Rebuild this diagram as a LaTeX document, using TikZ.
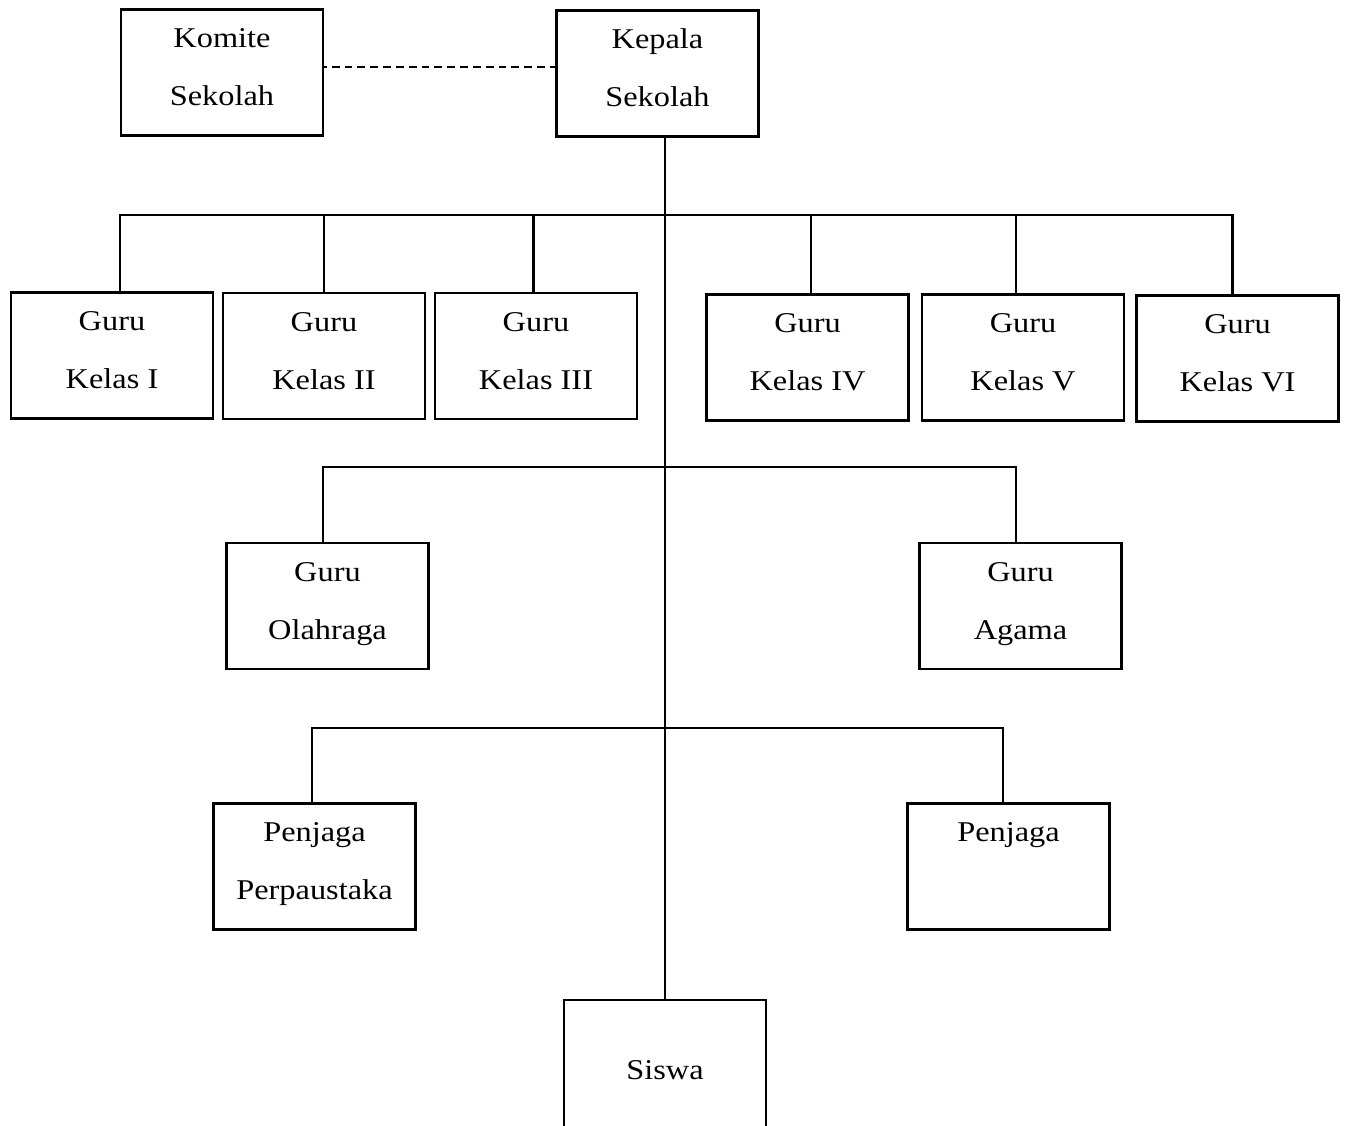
\documentclass[tikz,border=0pt]{standalone}
\usepackage{fontspec}
\setmainfont{Liberation Serif}[FakeStretch=1.13]

\begin{document}
\begin{tikzpicture}[x=0.02cm, y=-0.02cm]
    \tikzstyle{block} = [draw, rectangle, line width=1.4pt, minimum width=4.04cm, minimum height=2.52cm, align=center, inner sep=2pt, text height=45pt, text depth=7pt, font=\fontsize{16.3}{33}\selectfont];
    \tikzstyle{oneline} = [block, text height=12pt, text depth=41pt];
    \tikzstyle{link} = [line width=1.5pt];
    \tikzstyle{thinlink} = [line width=1pt];
    \path [use as bounding box, clip] (0,0) rectangle (1347,1126);
    % top
    \node [block] (komite) at (222,72.5) {Komite\\Sekolah};
    \node [block] (kepala) at (657.5,73.5) {Kepala\\Sekolah};
    % guru kelas
    \node [block] (k1) at (112,355.5) {Guru\\Kelas I};
    \node [block] (k2) at (324,356) {Guru\\Kelas II};
    \node [block] (k3) at (536,356) {Guru\\Kelas III};
    \node [block] (k4) at (807.5,357.5) {Guru\\Kelas IV};
    \node [block] (k5) at (1023,357.5) {Guru\\Kelas V};
    \node [block] (k6) at (1237.5,358.5) {Guru\\Kelas VI};
    % guru bidang
    \node [block] (olahraga) at (327.5,606) {Guru\\Olahraga};
    \node [block] (agama) at (1020.5,606) {Guru\\Agama};
    % penjaga
    \node [block] (perpus) at (314.5,866.5) {Penjaga\\Perpaustaka};
    \node [oneline] (penjaga) at (1008.5,866.5) {Penjaga};
    \node [oneline, minimum height=4.18cm] (siswa) at (665,1104.5) {Siswa};
    % junctions on the trunk
    \coordinate (b1) at (665,215);
    \coordinate (b2) at (665,467);
    \coordinate (b3) at (665,728);
    \draw [line width=0.9pt, dash pattern=on 4.5pt off 2.8pt, dash phase=3pt] ([yshift=3pt]komite.east) -- ([yshift=3pt]komite.east -| kepala.west);
    \draw [link] (kepala.south -| siswa.north) -- (siswa.north);
    \draw [link] ([xshift=4.5pt]k1.north) |- (b1) -| ([xshift=-3pt]k6.north);
    \draw [link] (k2.north) |- (b1);
    \draw [link] ([xshift=-1.5pt]k3.north) |- (b1);
    \draw [link] ([xshift=2pt]k4.north) |- (b1);
    \draw [link] ([xshift=-4pt]k5.north) |- (b1);
    \draw [thinlink] ([xshift=-2.5pt]olahraga.north) |- (b2) -| ([xshift=-2.5pt]agama.north);
    \draw [thinlink] ([xshift=-1.4pt]perpus.north) |- (b3) -| ([xshift=-3.1pt]penjaga.north);
\end{tikzpicture}
\end{document}
